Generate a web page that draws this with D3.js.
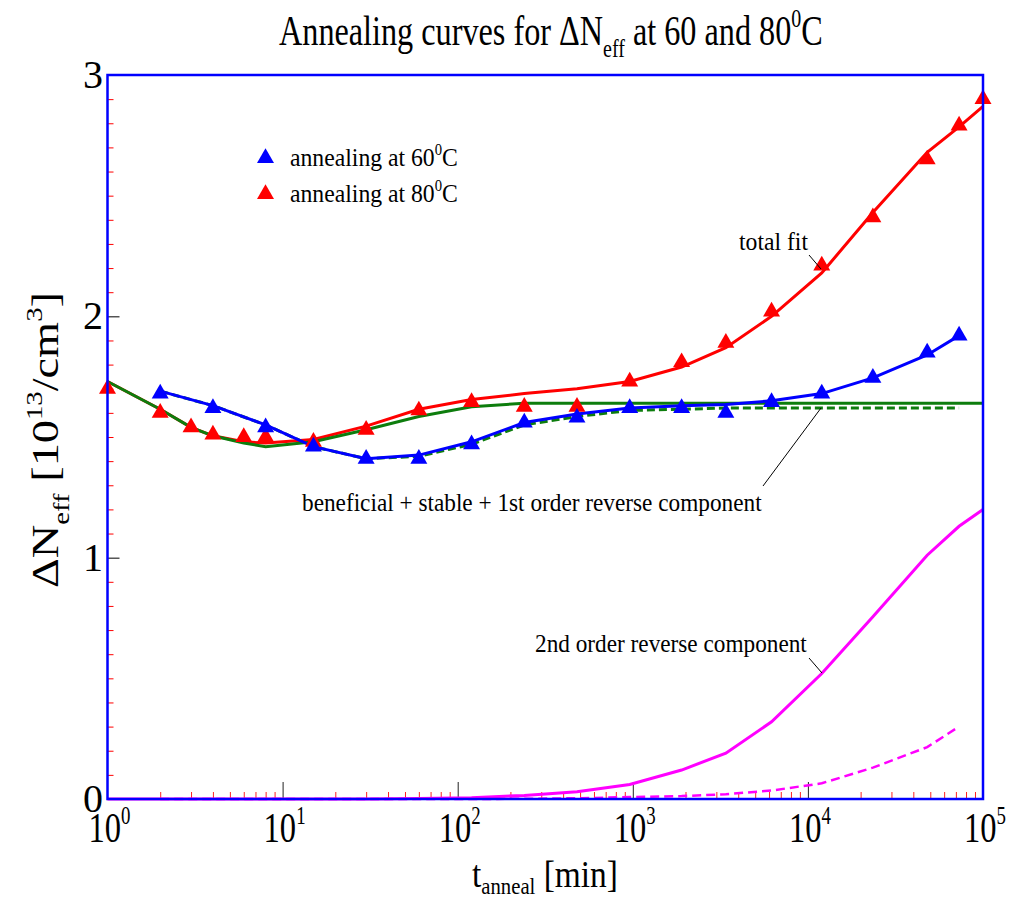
<!DOCTYPE html>
<html>
<head>
<meta charset="utf-8">
<script src="https://cdn.jsdelivr.net/npm/d3@7"></script>
<style>
  body { margin: 0; background: #fff; }
  svg { display: block; }
</style>
</head>
<body>
<svg id="chart" width="1010" height="899"></svg>
<script>
// annealing time grid (min) for the 80 C set and the 60 C set
const t80 = [1, 2, 3, 4, 6, 8, 15, 30, 60, 120, 240, 480, 960, 1900, 3400, 6200, 12000, 23500, 48000, 73000, 100000];
const t60 = [2, 4, 8, 15, 30, 60, 120, 240, 480, 960, 1900, 3400, 6200, 12000, 23500, 48000, 73000];

// measured points
const data80 = [1.70, 1.60, 1.54, 1.51, 1.50, 1.50, 1.48, 1.53, 1.61, 1.645, 1.625, 1.625, 1.73, 1.81, 1.89, 2.02, 2.21, 2.41, 2.65, 2.79, 2.90];
const data60 = [1.68, 1.62, 1.54, 1.46, 1.41, 1.41, 1.47, 1.56, 1.58, 1.62, 1.62, 1.60, 1.645, 1.68, 1.745, 1.85, 1.92];

// fits
const fit80 = [1.73, 1.615, 1.54, 1.505, 1.48, 1.475, 1.49, 1.545, 1.615, 1.655, 1.68, 1.70, 1.73, 1.79, 1.87, 2.00, 2.18, 2.43, 2.68, 2.785, 2.87];
const fit60 = [1.69, 1.63, 1.55, 1.46, 1.41, 1.425, 1.48, 1.56, 1.595, 1.62, 1.63, 1.635, 1.65, 1.68, 1.745, 1.84, 1.92];
const base80 = [1.73, 1.615, 1.54, 1.505, 1.475, 1.46, 1.48, 1.53, 1.585, 1.625, 1.64, 1.64, 1.64, 1.64, 1.64, 1.64, 1.64, 1.64, 1.64, 1.64, 1.64];
const base60 = [1.69, 1.63, 1.55, 1.46, 1.41, 1.42, 1.47, 1.55, 1.585, 1.61, 1.615, 1.62, 1.62, 1.62, 1.62, 1.62, 1.62];
const second80 = [0, 0, 0, 0, 0, 0, 0, 0, 0.002, 0.005, 0.015, 0.03, 0.06, 0.12, 0.19, 0.32, 0.52, 0.755, 1.01, 1.13, 1.20];
const second60 = [0, 0, 0, 0, 0, 0, 0, 0.001, 0.003, 0.008, 0.012, 0.02, 0.035, 0.065, 0.13, 0.215, 0.30];

const xTicks = [1, 10, 100, 1000, 10000, 100000];
const xExps = ["0", "1", "2", "3", "4", "5"];
const yTicks = [0, 1, 2, 3];

const serif = "'Liberation Serif', 'Times New Roman', serif";
const svg = d3.select("#chart");

const x = d3.scaleLog().domain([1, 1e5]).range([107.5, 983]);
const y = d3.scaleLinear().domain([0, 3]).range([799, 75]);

// text with sub/superscripts, squeezed to a target width
function richText(parts, o) {
    const t = svg.append("text")
        .attr("font-family", serif)
        .attr("font-size", o.size)
        .attr("fill", "#000");
    let shift = 0;
    parts.forEach(p => {
        const level = p.sup ? -0.42 : p.sub ? (o.subShift || 0.28) : 0;
        const ts = t.append("tspan").text(p.t);
        if (p.sup || p.sub) ts.attr("font-size", o.size * (o.small || 0.62));
        const dy = (level - shift) * o.size;
        if (dy) ts.attr("dy", dy);
        shift = level;
    });
    const w = t.node().getComputedTextLength();
    const s = o.width ? o.width / w : 1;
    const x0 = o.anchor === "middle" ? -w * s / 2 : o.anchor === "end" ? -w * s : 0;
    t.attr("transform", `translate(${o.x},${o.y}) rotate(${o.rotate || 0}) translate(${x0},0) scale(${s},1)`);
    return t;
}

// minor ticks
const yMinor = d3.range(1, 30).filter(i => i % 10 !== 0).map(i => i / 10);
svg.append("g")
    .attr("transform", `translate(${x.range()[0]},0)`)
    .call(d3.axisLeft(y).tickValues(yMinor).tickSize(-6).tickFormat(""))
    .call(g => g.select(".domain").remove())
    .call(g => g.selectAll("line").attr("stroke", "#ff0000"));

const xMinor = [];
for (let d = 0; d < 5; d++) for (let m = 2; m <= 9; m++) xMinor.push(m * Math.pow(10, d));
svg.append("g")
    .attr("transform", `translate(0,${y.range()[0]})`)
    .call(d3.axisBottom(x).tickValues(xMinor).tickSize(-7).tickFormat(""))
    .call(g => g.select(".domain").remove())
    .call(g => g.selectAll("line").attr("stroke", "#ff2020"));

// major ticks
svg.append("g")
    .attr("transform", `translate(${x.range()[0]},0)`)
    .call(d3.axisLeft(y).tickValues([1, 2]).tickSize(-12).tickFormat(""))
    .call(g => g.select(".domain").remove())
    .call(g => g.selectAll("line").attr("stroke", "#000"));
svg.append("g")
    .attr("transform", `translate(0,${y.range()[0]})`)
    .call(d3.axisBottom(x).tickValues([10, 100, 1000, 10000]).tickSize(-17).tickFormat(""))
    .call(g => g.select(".domain").remove())
    .call(g => g.selectAll("line").attr("stroke", "#222"));

// curves
const line = (ts, vs) => d3.line().x((d, i) => x(ts[i])).y(d => y(d))(vs);

svg.append("path").attr("d", line(t60, second60)).attr("fill", "none")
    .attr("stroke", "#ff00ff").attr("stroke-width", 2.5).attr("stroke-dasharray", "9,5");
svg.append("path").attr("d", line(t80, second80)).attr("fill", "none")
    .attr("stroke", "#ff00ff").attr("stroke-width", 3);
svg.append("path").attr("d", line(t60, base60)).attr("fill", "none")
    .attr("stroke", "#0d7d0d").attr("stroke-width", 3).attr("stroke-dasharray", "8,4");
svg.append("path").attr("d", line(t80, fit80)).attr("fill", "none")
    .attr("stroke", "#ff0000").attr("stroke-width", 3);
svg.append("path").attr("d", line(t80, base80)).attr("fill", "none")
    .attr("stroke", "#0d7d0d").attr("stroke-width", 3);
svg.append("path").attr("d", line(t60, fit60)).attr("fill", "none")
    .attr("stroke", "#0000ff").attr("stroke-width", 3);

// markers
const tri = d3.symbol().type(d3.symbolTriangle).size(125);
svg.selectAll(".m80").data(data80).enter().append("path")
    .attr("class", "m80")
    .attr("transform", (d, i) => `translate(${x(t80[i])},${y(d)})`)
    .attr("d", tri).attr("fill", "#ff0000");
svg.selectAll(".m60").data(data60).enter().append("path")
    .attr("class", "m60")
    .attr("transform", (d, i) => `translate(${x(t60[i])},${y(d)})`)
    .attr("d", tri).attr("fill", "#0000ff");

// frame
svg.append("rect")
    .attr("x", x.range()[0]).attr("y", y.range()[1])
    .attr("width", x.range()[1] - x.range()[0])
    .attr("height", y.range()[0] - y.range()[1])
    .attr("fill", "none").attr("stroke", "#0000ff").attr("stroke-width", 2.5);

// tick labels
xTicks.forEach((v, i) => {
    richText([{ t: "10" }, { t: xExps[i], sup: true }],
        { x: x(v) + 2, y: 842, size: 42, small: 0.58, width: 42, anchor: "middle" });
});
yTicks.forEach(v => {
    svg.append("text")
        .attr("x", 103).attr("y", y(v) + 13)
        .attr("text-anchor", "end")
        .attr("font-family", serif).attr("font-size", 40)
        .text(v);
});

// titles
richText([{ t: "Annealing curves for \u0394N" }, { t: "eff", sub: true }, { t: " at 60 and 80" }, { t: "0", sup: true }, { t: "C" }],
    { x: 279, y: 45, size: 42, width: 544 });
richText([{ t: "t" }, { t: "anneal", sub: true }, { t: " [min]" }],
    { x: 472, y: 887, size: 38, width: 146, subShift: 0.18 });
richText([{ t: "\u0394N" }, { t: "eff", sub: true }, { t: "  [10" }, { t: "13", sup: true }, { t: "/cm" }, { t: "3", sup: true }, { t: "]" }],
    { x: 58, y: 440, size: 38, width: 296, rotate: -90, anchor: "middle" });

// legend
const legend = [
    { c: "#0000ff", label: "60", y: 158 },
    { c: "#ff0000", label: "80", y: 194 }
];
legend.forEach(l => {
    svg.append("path").attr("transform", `translate(265.5,${l.y})`).attr("d", tri).attr("fill", l.c);
    richText([{ t: "annealing at " + l.label }, { t: "0", sup: true }, { t: "C" }],
        { x: 290, y: l.y + 8, size: 26, width: 168 });
});

// annotations
richText([{ t: "total fit" }], { x: 739, y: 250, size: 26, width: 69 });
richText([{ t: "beneficial + stable + 1st order reverse component" }], { x: 302, y: 511, size: 26, width: 460 });
richText([{ t: "2nd order reverse component" }], { x: 535, y: 652, size: 26, width: 272 });

const leaders = [
    [[809, 255], [821, 269]],
    [[763, 486], [821, 408]],
    [[809, 658], [822, 673]]
];
leaders.forEach(p => {
    svg.append("line")
        .attr("x1", p[0][0]).attr("y1", p[0][1])
        .attr("x2", p[1][0]).attr("y2", p[1][1])
        .attr("stroke", "#000").attr("stroke-width", 1);
});
</script>
</body>
</html>
